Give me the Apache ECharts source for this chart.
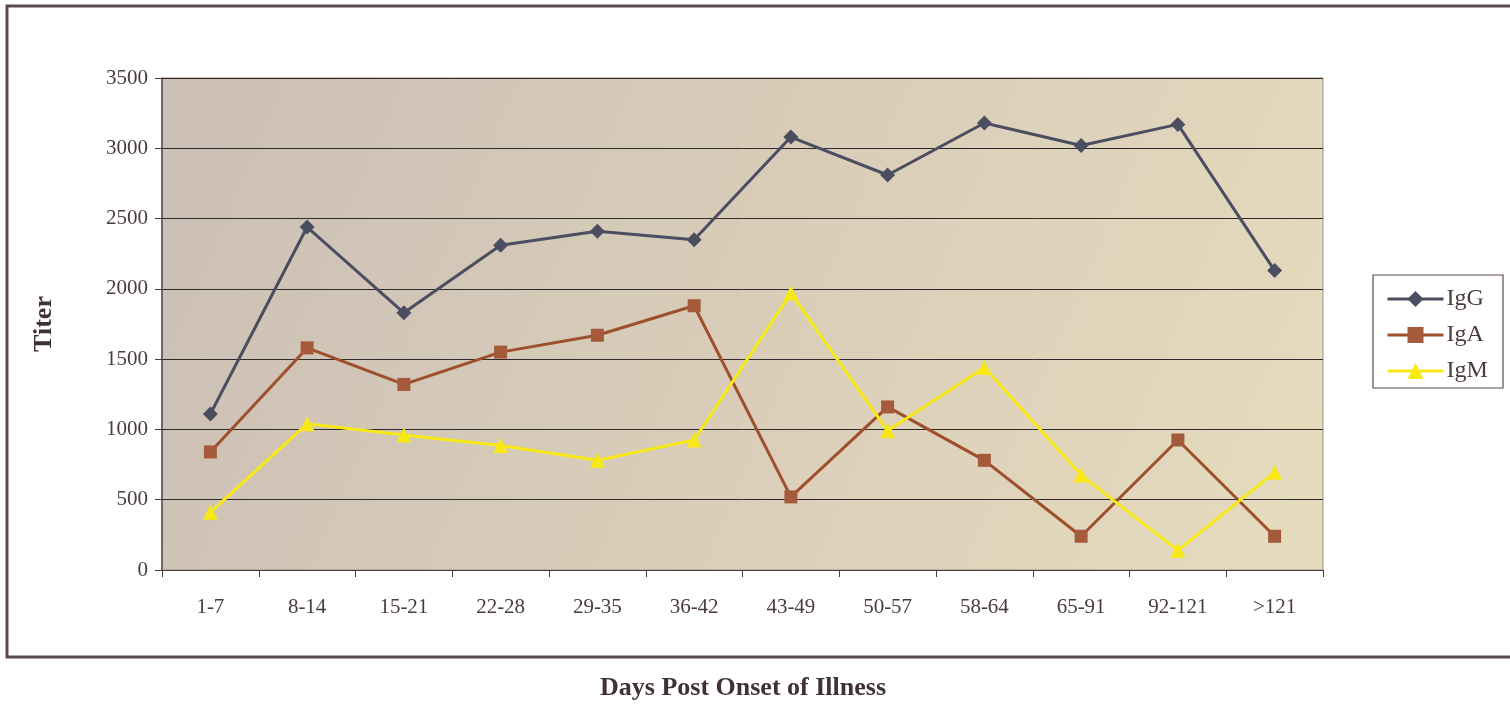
<!DOCTYPE html>
<html><head><meta charset="utf-8">
<script src="https://cdn.jsdelivr.net/npm/echarts@6/dist/echarts.min.js"></script>
<style>html,body{margin:0;padding:0;background:#fff}#c{width:1510px;height:712px}</style>
</head><body><div id="c"></div>
<script>
const categories = ['1-7','8-14','15-21','22-28','29-35','36-42','43-49','50-57','58-64','65-91','92-121','>121'];
const igG = [1110, 2440, 1830, 2310, 2410, 2350, 3080, 2810, 3180, 3020, 3170, 2130];
const igA = [840, 1580, 1320, 1550, 1670, 1880, 520, 1160, 780, 240, 925, 240];
const igM = [410, 1040, 960, 885, 780, 925, 1970, 990, 1440, 675, 140, 695];
const seriesNames = ['IgG','IgA','IgM'];

const chart = echarts.init(document.getElementById('c'));
const font = '"Liberation Serif", "Times New Roman", serif';
const txt = '#4a3c3c';
chart.setOption({
  animation: false,
  backgroundColor: '#fff',
  textStyle: {fontFamily: font},
  graphic: [
    {type:'rect', shape:{x:7, y:6, width:1510, height:651}, style:{fill:'none', stroke:'#5a4a4e', lineWidth:3}, z:-1},
    {type:'text', x:743, y:675, style:{text:'Days Post Onset of Illness', font:'bold 26px "Liberation Serif"', fill:'#3e3236', textAlign:'center'}},
    {type:'rect', shape:{x:1373, y:275, width:130, height:113}, style:{fill:'#fff', stroke:'#5a4a4e', lineWidth:1.2}, z:5}
  ],
  grid: {left:162, right:187, top:78, bottom:142, show:true,
    backgroundColor: new echarts.graphic.LinearGradient(0,0,1,1,[
      {offset:0, color:'#cbbfb6'},{offset:0.5, color:'#d9cdb9'},{offset:1, color:'#e6dcbd'}]),
    borderColor:'#9a9088', borderWidth:1},
  legend: {
    orient:'vertical', left:1381, top:282, itemGap:12, itemWidth:56, itemHeight:20,
    lineStyle:{width:3},
    textStyle:{fontFamily:font, fontSize:24, color:txt, padding:[0,0,0,-2]},
    data: seriesNames, z:6
  },
  xAxis: {
    type:'category', data:categories, boundaryGap:true,
    axisLine:{lineStyle:{color:'#4a3c3c', width:1.2}},
    axisTick:{show:true, length:7, lineStyle:{color:'#4a3c3c'}},
    axisLabel:{fontFamily:font, fontSize:21, color:txt, margin:27}
  },
  yAxis: {
    type:'value', min:0, max:3500, interval:500,
    name:'Titer', nameLocation:'middle', nameGap:105, nameRotate:90,
    nameTextStyle:{fontFamily:font, fontSize:26, fontWeight:'bold', color:'#3e3236'},
    axisLine:{show:true, lineStyle:{color:'#5a4a4a', width:1.5}},
    axisTick:{show:true, length:7, lineStyle:{color:'#4a3c3c'}},
    axisLabel:{fontFamily:font, fontSize:21, color:txt, margin:14, formatter: v => String(v)},
    splitLine:{lineStyle:{color:'#2e2a2a', width:1}}
  },
  series: [
    {name:'IgG', type:'line', data:igG, symbol:'diamond', symbolSize:15,
      lineStyle:{color:'#4b4d60', width:3}, itemStyle:{color:'#4b4d60'}},
    {name:'IgA', type:'line', data:igA, symbol:'rect', symbolSize:13,
      lineStyle:{color:'#9e4f2c', width:3}, itemStyle:{color:'#a55a3c'}},
    {name:'IgM', type:'line', data:igM, symbol:'triangle', symbolSize:15,
      lineStyle:{color:'#f7e816', width:3}, itemStyle:{color:'#f7e816'}}
  ]
});
</script></body></html>
